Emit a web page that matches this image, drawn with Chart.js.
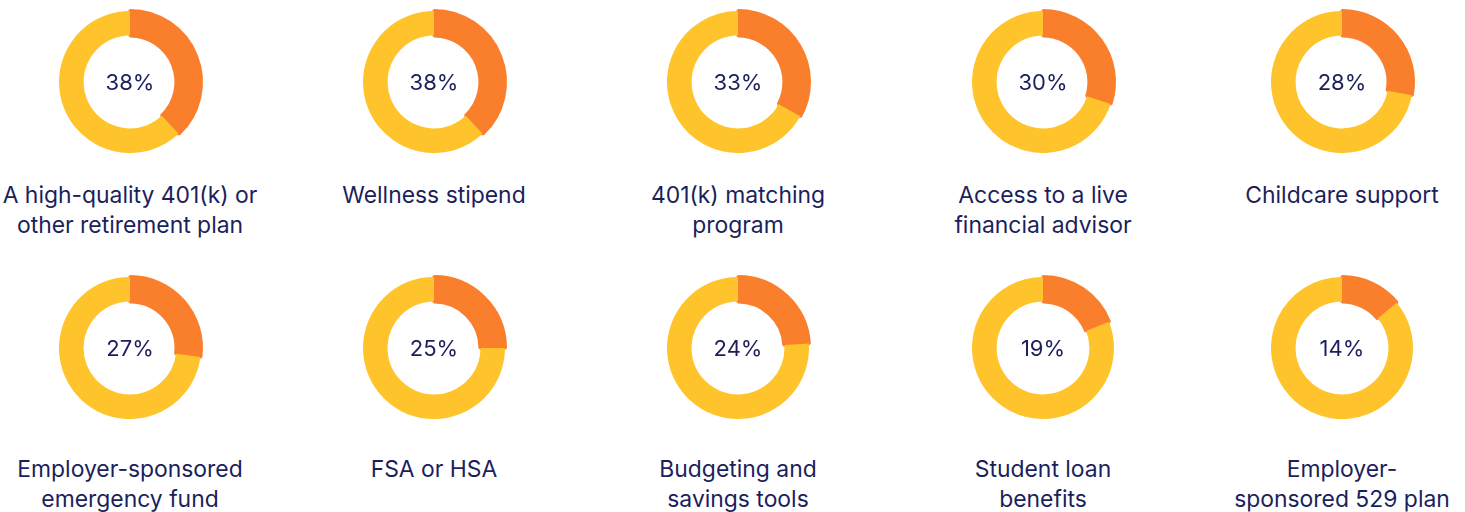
<!DOCTYPE html>
<html>
<head>
<meta charset="utf-8">
<script src="https://cdn.jsdelivr.net/npm/chart.js@4"></script>
<style>
  body { margin: 0; background: #fff; width: 1465px; height: 512px; overflow: hidden; position: relative; }
  .ring { position: absolute; width: 160px; height: 160px; }
  .caption {
    position: absolute; width: 320px; text-align: center; white-space: pre-line;
    font-family: Inter, "Noto Sans", sans-serif; font-size: 22.9px; line-height: 30px; color: #1b1f5c;
  }
</style>
</head>
<body>
<script>
// benefit labels, top row then bottom row
const benefitLabels = [
  'A high-quality 401(k) or\nother retirement plan',
  'Wellness stipend',
  '401(k) matching\nprogram',
  'Access to a live\nfinancial advisor',
  'Childcare support',
  'Employer-sponsored\nemergency fund',
  'FSA or HSA',
  'Budgeting and\nsavings tools',
  'Student loan\nbenefits',
  'Employer-\nsponsored 529 plan'
];
const benefitShares = [38, 38, 33, 30, 28, 27, 25, 24, 19, 14];

const colCenters = [130, 434, 738, 1043, 1342];
const rowCenters = [82, 348];
const captionTops = [180, 454];

const ORANGE = '#fa7f2c';
const YELLOW = '#ffc42b';
const NAVY = '#1b1f5c';

const centerText = {
  id: 'centerText',
  afterDraw(chart) {
    const { ctx, chartArea } = chart;
    const value = chart.data.datasets[0].data[0];
    ctx.save();
    ctx.font = '22px Inter, "Noto Sans", sans-serif';
    ctx.fillStyle = NAVY;
    ctx.textAlign = 'center';
    ctx.textBaseline = 'middle';
    ctx.fillText(value + '%', (chartArea.left + chartArea.right) / 2, (chartArea.top + chartArea.bottom) / 2 + 1);
    ctx.restore();
  }
};

benefitShares.forEach((share, i) => {
  const col = i % 5;
  const row = Math.floor(i / 5);
  const cx = colCenters[col];
  const cy = rowCenters[row];

  const box = document.createElement('div');
  box.className = 'ring';
  box.style.left = (cx - 80) + 'px';
  box.style.top = (cy - 80) + 'px';
  const canvas = document.createElement('canvas');
  box.append(canvas);
  document.body.append(box);

  const caption = document.createElement('div');
  caption.className = 'caption';
  caption.textContent = benefitLabels[i];
  caption.style.left = (cx - 160) + 'px';
  caption.style.top = captionTops[row] + 'px';
  document.body.append(caption);

  new Chart(canvas, {
    type: 'doughnut',
    data: {
      labels: ['Yes', 'No'],
      datasets: [{
        data: [share, 100 - share],
        backgroundColor: [ORANGE, YELLOW],
        borderColor: [ORANGE, YELLOW],
        borderWidth: [4, 0]
      }]
    },
    options: {
      responsive: true,
      maintainAspectRatio: false,
      animation: false,
      radius: 71,
      cutout: 51,
      layout: { padding: 0 },
      plugins: { legend: { display: false }, tooltip: { enabled: false } }
    },
    plugins: [centerText]
  });
});
</script>
</body>
</html>
